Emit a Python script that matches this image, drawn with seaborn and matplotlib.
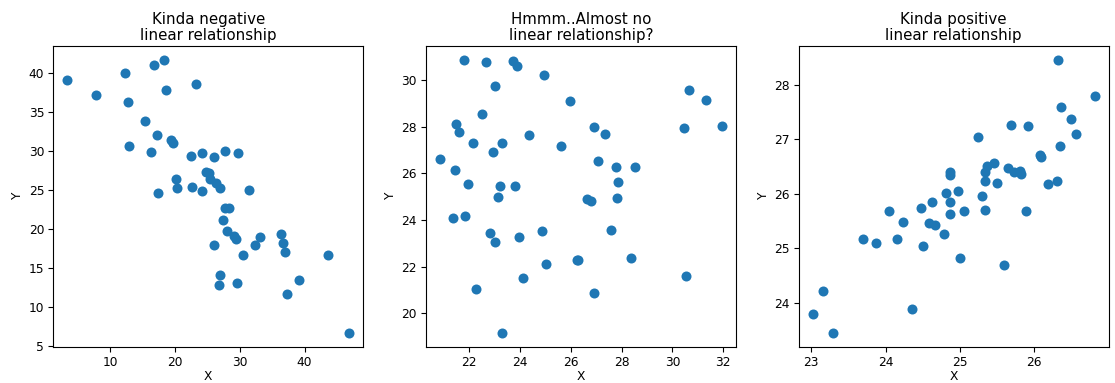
import matplotlib
matplotlib.use("Agg")
import matplotlib.pyplot as plt
import seaborn as sns
import pandas as pd

# Panel 1: negative relationship
neg_x = [3.36, 7.79, 12.21, 16.79, 18.34, 12.78, 18.54, 23.28, 15.30, 17.21,
         12.83, 16.28, 19.42, 19.68, 22.45, 24.10, 26.01, 27.76, 29.66, 20.14,
         20.34, 22.61, 24.20, 17.41, 24.82, 25.18, 25.34, 26.37, 26.93, 31.46,
         27.65, 28.27, 27.34, 27.96, 29.15, 29.45, 26.01, 30.43, 32.39, 33.16,
         36.30, 36.61, 36.97, 43.66, 26.88, 26.83, 29.61, 37.23, 39.13, 46.90]
neg_y = [39.1, 37.2, 40.0, 41.0, 41.75, 36.3, 37.9, 38.6, 33.85, 32.1,
         30.7, 29.9, 31.4, 31.1, 29.4, 29.7, 29.2, 30.0, 29.8, 26.4,
         25.25, 25.4, 24.9, 24.65, 27.3, 27.15, 26.4, 25.95, 25.25, 25.0,
         22.65, 22.65, 21.2, 19.8, 19.05, 18.75, 17.9, 16.6, 17.95, 19.0,
         19.3, 18.15, 17.1, 16.7, 14.05, 12.8, 13.0, 11.7, 13.4, 6.6]

# Panel 2: almost no relationship
none_x = [20.86, 21.78, 22.67, 23.71, 23.88, 24.93, 23.02, 22.52, 21.50, 21.62,
          22.17, 23.31, 22.93, 24.36, 25.61, 25.99, 26.90, 27.34, 27.07, 27.77,
          28.54, 27.85, 27.84, 26.63, 26.78, 21.44, 21.97, 23.21, 23.82, 23.14,
          21.37, 21.84, 22.84, 23.01, 23.96, 24.85, 27.59, 26.23, 26.28, 25.03,
          24.13, 22.28, 28.36, 26.92, 23.29, 30.64, 31.33, 31.95, 30.46, 30.52]
none_y = [26.64, 30.89, 30.79, 30.84, 30.62, 30.24, 29.74, 28.54, 28.13, 27.77,
          27.32, 27.30, 26.91, 27.65, 27.20, 29.13, 28.00, 27.71, 26.54, 26.29,
          26.29, 25.64, 24.95, 24.92, 24.81, 26.15, 25.54, 25.48, 25.45, 24.98,
          24.09, 24.16, 23.45, 23.06, 23.29, 23.52, 23.56, 22.30, 22.30, 22.09,
          21.52, 21.04, 22.36, 20.87, 19.13, 29.57, 29.17, 28.05, 27.95, 21.60]

# Panel 3: positive relationship
pos_x = [23.02, 23.16, 23.29, 23.69, 23.87, 24.05, 24.15, 24.23, 24.35, 24.48,
         24.50, 24.58, 24.63, 24.67, 24.79, 24.81, 24.86, 24.87, 24.87, 24.86,
         24.98, 25.00, 25.06, 25.24, 25.30, 25.34, 25.36, 25.34, 25.34, 25.46,
         25.50, 25.59, 25.65, 25.68, 25.72, 25.81, 25.82, 25.89, 25.91, 26.07,
         26.09, 26.19, 26.30, 26.32, 26.34, 26.36, 26.49, 26.56, 26.81]
pos_y = [23.80, 24.21, 23.44, 25.17, 25.09, 25.68, 25.17, 25.49, 23.89, 25.73,
         25.04, 25.46, 25.84, 25.43, 25.26, 26.01, 26.40, 26.34, 25.85, 25.63,
         26.05, 24.83, 25.69, 27.04, 25.95, 26.40, 26.50, 26.24, 25.71, 26.56,
         26.20, 24.69, 26.47, 27.27, 26.40, 26.42, 26.36, 25.69, 27.25, 26.72,
         26.67, 26.18, 26.23, 28.46, 26.88, 27.59, 27.38, 27.10, 27.79]

titles = ["Kinda negative\nlinear relationship",
          "Hmmm..Almost no\nlinear relationship?",
          "Kinda positive\nlinear relationship"]

panels = [(neg_x, neg_y), (none_x, none_y), (pos_x, pos_y)]

fig = plt.figure(figsize=(11.15, 3.83), dpi=100)
lefts = [0.0478, 0.3821, 0.7163]
width = 0.278
bottom = 0.094
height = 0.786

for left, (xs, ys), title in zip(lefts, panels, titles):
    ax = fig.add_axes([left, bottom, width, height])
    df = pd.DataFrame({"X": xs, "Y": ys})
    sns.scatterplot(data=df, x="X", y="Y", ax=ax, color="#1f77b4",
                    s=52, linewidth=0, alpha=1)
    ax.set_title(title, fontsize=10.8, pad=4, linespacing=1.1)
    ax.set_xlabel("X", fontsize=8.8, labelpad=1)
    ax.set_ylabel("Y", fontsize=8.8, labelpad=3)
    ax.tick_params(labelsize=8.8, length=3.5, pad=3)

fig.savefig("out.png", dpi=100)
